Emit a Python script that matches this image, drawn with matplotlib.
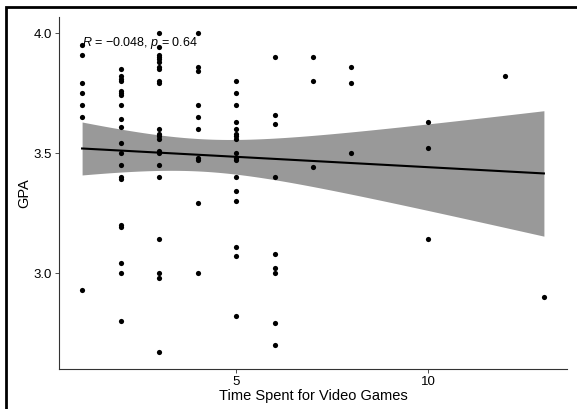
import numpy as np
import matplotlib
matplotlib.use("Agg")
import matplotlib.pyplot as plt
from matplotlib.patches import Rectangle

plt.rcParams['font.family'] = ['Liberation Sans', 'DejaVu Sans']
plt.rcParams['mathtext.fontset'] = 'custom'
plt.rcParams['mathtext.rm'] = 'Liberation Sans'
plt.rcParams['mathtext.it'] = 'Liberation Sans:italic'

# hours per week spent on video games -> GPA
gpa_1 = [3.95, 3.91, 3.79, 3.75, 3.70, 3.65, 2.93]
gpa_2 = [3.85, 3.82, 3.81, 3.80, 3.76, 3.75, 3.74, 3.70, 3.64, 3.61,
         3.54, 3.50, 3.45, 3.40, 3.39, 3.20, 3.19, 3.04, 3.00, 2.80]
gpa_3 = [4.00, 3.94, 3.91, 3.90, 3.89, 3.88, 3.86, 3.85, 3.80, 3.79,
         3.60, 3.58, 3.57, 3.56, 3.51, 3.50, 3.45, 3.40, 3.14, 3.00,
         2.98, 2.67]
gpa_4 = [4.00, 3.86, 3.84, 3.70, 3.65, 3.60, 3.48, 3.47, 3.29, 3.00]
gpa_5 = [3.80, 3.75, 3.70, 3.63, 3.60, 3.58, 3.57, 3.56, 3.50, 3.48,
         3.47, 3.40, 3.34, 3.30, 3.11, 3.07, 2.82]
gpa_6 = [3.90, 3.66, 3.62, 3.40, 3.08, 3.02, 3.00, 2.79, 2.70]
gpa_7 = [3.90, 3.80, 3.44]
gpa_8 = [3.86, 3.79, 3.50]
gpa_10 = [3.63, 3.52, 3.14]
gpa_12 = [3.82]
gpa_13 = [2.90]

hours = [1, 2, 3, 4, 5, 6, 7, 8, 10, 12, 13]
groups = [gpa_1, gpa_2, gpa_3, gpa_4, gpa_5, gpa_6, gpa_7, gpa_8,
          gpa_10, gpa_12, gpa_13]

# fitted line (value at x=1 and x=13)
fit_ends = [3.519, 3.415]

x = np.concatenate([[h] * len(g) for h, g in zip(hours, groups)]).astype(float)
y = np.concatenate(groups)

# 95% confidence band around the fitted line
n = len(x)
slope = (fit_ends[1] - fit_ends[0]) / (x.max() - x.min())
intercept = fit_ends[0] - slope * x.min()
b, a = np.polyfit(x, y, 1)
resid = y - (a + b * x)
s = np.sqrt(np.sum(resid ** 2) / (n - 2))
xs = np.linspace(x.min(), x.max(), 100)
ys = intercept + slope * xs
se = s * np.sqrt(1 / n + (xs - x.mean()) ** 2 / np.sum((x - x.mean()) ** 2))
tcrit = 1.984
lo = ys - tcrit * se
hi = ys + tcrit * se

fig = plt.figure(figsize=(5.77, 4.09), dpi=100)
ax = fig.add_axes([59 / 577, 40 / 409, 508 / 577, 352 / 409])

ax.scatter(x, y, s=14, color='black', zorder=3, linewidths=0)
ax.fill_between(xs, lo, hi, color='#999999', linewidth=0, zorder=1)
ax.plot(xs, ys, color='black', linewidth=1.5, zorder=2)

ax.text(1.0, 3.958, r'$\it{R}$ = $-$0.048, $\it{p}$ = 0.64', fontsize=9,
        va='center', ha='left', color='black', zorder=4)

ax.set_xlim(0.4, 13.6)
ax.set_ylim(2.6, 4.067)
ax.set_xticks([5, 10])
ax.set_yticks([3.0, 3.5, 4.0])
ax.set_yticklabels(['3.0', '3.5', '4.0'])
ax.tick_params(labelsize=9.5, colors='#333333', length=3, width=0.6, pad=2)
ax.tick_params(labelcolor='black')

for side in ['top', 'right']:
    ax.spines[side].set_visible(False)
for side in ['left', 'bottom']:
    ax.spines[side].set_linewidth(0.8)
    ax.spines[side].set_color('#333333')

ax.set_xlabel('Time Spent for Video Games', fontsize=10.5, labelpad=1)
ax.set_ylabel('GPA', fontsize=10.5, labelpad=2)

# frame around the screenshot (left and top edges visible)
fig.patches.append(Rectangle((6 / 577, -0.1), 1.2, 1.1 - 7 / 409,
                             transform=fig.transFigure, fill=False,
                             edgecolor='black', linewidth=2, clip_on=False))

fig.savefig('out.png', dpi=100)
